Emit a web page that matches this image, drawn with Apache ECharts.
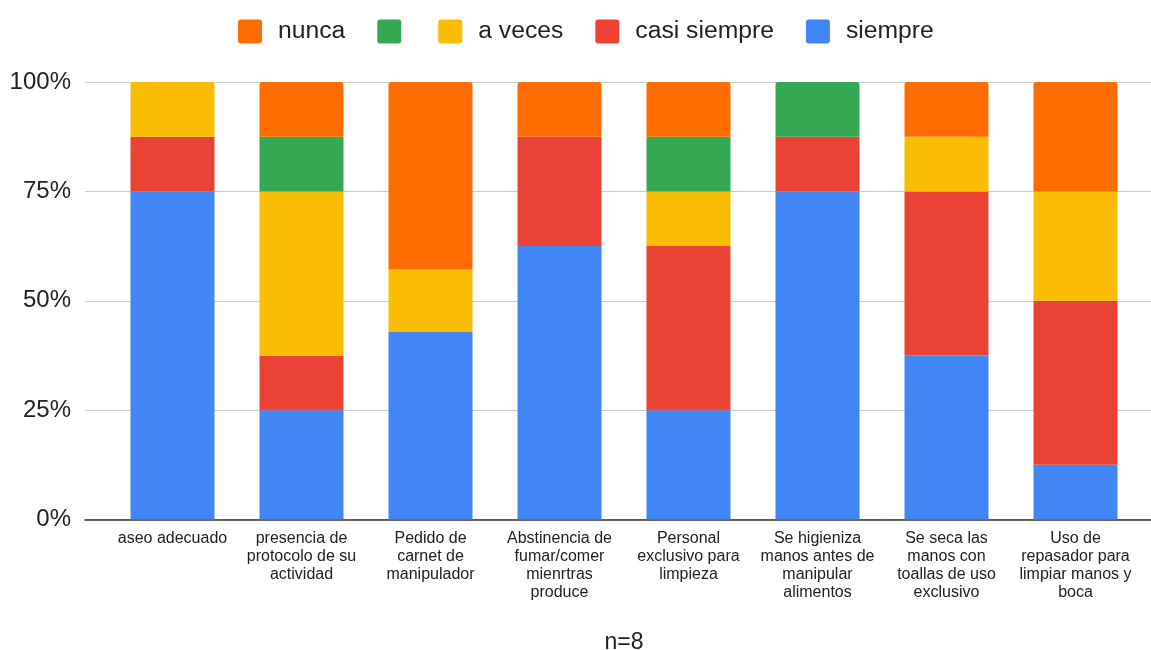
<!DOCTYPE html>
<html>
<head>
<meta charset="utf-8">
<script src="https://cdn.jsdelivr.net/npm/echarts@6/dist/echarts.min.js"></script>
<style>
  html, body { margin: 0; padding: 0; background: #fff; }
  #chart { width: 1151px; height: 650px; }
</style>
</head>
<body>
<div id="chart"></div>
<script>
const categories = [
  'aseo adecuado',
  'presencia de\nprotocolo de su\nactividad',
  'Pedido de\ncarnet de\nmanipulador',
  'Abstinencia de\nfumar/comer\nmienrtras\nproduce',
  'Personal\nexclusivo para\nlimpieza',
  'Se higieniza\nmanos antes de\nmanipular\nalimentos',
  'Se seca las\nmanos con\ntoallas de uso\nexclusivo',
  'Uso de\nrepasador para\nlimpiar manos y\nboca'
];
const yTicks = [0, 25, 50, 75, 100];
const siempre     = [75, 25, 42.86, 62.5, 25, 75, 37.5, 12.5];
const casiSiempre = [12.5, 12.5, 0, 25, 37.5, 12.5, 37.5, 37.5];
const aVeces      = [12.5, 37.5, 14.28, 0, 12.5, 0, 12.5, 25];
const sinEtiqueta = [0, 12.5, 0, 0, 12.5, 12.5, 0, 0];
const nunca       = [0, 12.5, 42.86, 12.5, 12.5, 0, 12.5, 25];
const footnote = 'n=8';

const FONT = '"Liberation Sans", Arial, sans-serif';
const GREEN_NAME = '\u200b';

const seriesDefs = [
  { name: 'siempre', data: siempre, color: '#4285F4' },
  { name: 'casi siempre', data: casiSiempre, color: '#EA4335' },
  { name: 'a veces', data: aVeces, color: '#FBBC04' },
  { name: GREEN_NAME, data: sinEtiqueta, color: '#34A853' },
  { name: 'nunca', data: nunca, color: '#FF6D01' }
];

// find topmost non-zero segment per category to round its top corners
const topIdx = categories.map((_, c) => {
  let t = -1;
  seriesDefs.forEach((s, i) => { if (s.data[c] > 0) t = i; });
  return t;
});

const series = seriesDefs.map((s, i) => ({
  name: s.name,
  type: 'bar',
  stack: 'total',
  xAxisIndex: 1,
  yAxisIndex: 1,
  barWidth: 84,
  itemStyle: { color: s.color },
  emphasis: { disabled: true },
  data: s.data.map((v, c) => topIdx[c] === i
    ? { value: v, itemStyle: { borderRadius: [3, 3, 0, 0] } }
    : v)
}));

const iconPath = 'path://M3,0 H21 Q24,0 24,3 V21 Q24,24 21,24 H3 Q0,24 0,21 V3 Q0,0 3,0 Z';
const legendOrder = ['nunca', GREEN_NAME, 'a veces', 'casi siempre', 'siempre'];

const chart = echarts.init(document.getElementById('chart'), null, { renderer: 'canvas' });
chart.setOption({
  animation: false,
  backgroundColor: '#ffffff',
  legend: {
    left: 238,
    top: 19,
    padding: 0,
    itemWidth: 24,
    itemHeight: 24,
    itemGap: 32,
    icon: iconPath,
    selectedMode: false,
    textStyle: { fontFamily: FONT, fontSize: 24.7, color: '#222222' },
    data: legendOrder.map(n => n === GREEN_NAME
      ? { name: n, textStyle: { padding: [0, 0, 0, 0] } }
      : { name: n, textStyle: { padding: [0, 0, 0, 11] } })
  },
  grid: [
    { left: 85, right: 0, top: 82, bottom: 130.5, outerBoundsMode: 'none', containLabel: false },
    { left: 108, right: 11, top: 82, bottom: 130.5, outerBoundsMode: 'none', containLabel: false }
  ],
  xAxis: [
    {
      gridIndex: 0, type: 'category', data: categories,
      axisLine: { show: true, lineStyle: { color: '#333333', width: 1.5 } },
      axisTick: { show: false }, axisLabel: { show: false }, splitLine: { show: false }
    },
    {
      gridIndex: 1, type: 'category', data: categories,
      axisLine: { show: false }, axisTick: { show: false },
      axisLabel: {
        interval: 0, margin: 10, fontFamily: FONT, fontSize: 16, lineHeight: 18,
        color: '#222222', align: 'center'
      },
      name: footnote, nameLocation: 'middle', nameGap: 112,
      nameTextStyle: { fontFamily: FONT, fontSize: 23, color: '#222222' }
    }
  ],
  yAxis: [
    {
      gridIndex: 0, type: 'value', min: 0, max: 100, interval: 25,
      axisLine: { show: false }, axisTick: { show: false },
      axisLabel: {
        margin: 14, fontFamily: FONT, fontSize: 24, color: '#222222',
        formatter: v => yTicks.includes(v) ? v + '%' : ''
      },
      splitLine: { show: true, lineStyle: { color: '#cccccc', width: 1 } }
    },
    {
      gridIndex: 1, type: 'value', min: 0, max: 100, interval: 25,
      axisLine: { show: false }, axisTick: { show: false },
      axisLabel: { show: false }, splitLine: { show: false }
    }
  ],
  series: series
});
</script>
</body>
</html>
